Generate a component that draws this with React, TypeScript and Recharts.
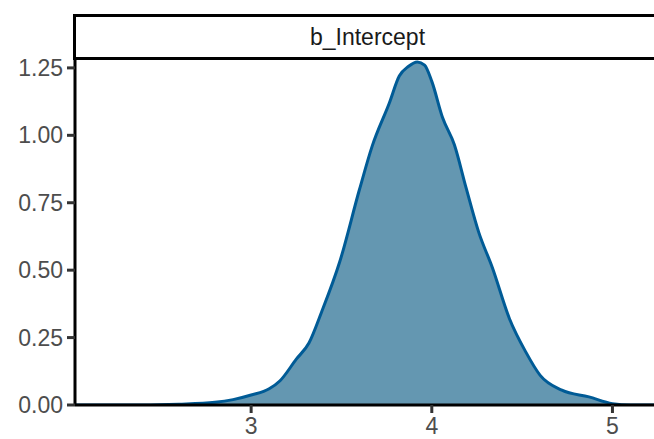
import { AreaChart, Area, XAxis, YAxis } from "recharts";

// posterior density of b_Intercept
const xs = [
  2.025, 2.2, 2.4, 2.6, 2.8, 2.9, 3.0, 3.1, 3.16, 3.25, 3.32, 3.39, 3.49, 3.6,
  3.67, 3.765, 3.82, 3.87, 3.92, 3.96, 4.0, 4.06, 4.125, 4.19, 4.26, 4.335,
  4.43, 4.52, 4.6, 4.72, 4.87, 5.0, 5.1, 5.23,
];
const density = [
  0, 0, 0, 0.003, 0.01, 0.02, 0.037, 0.06, 0.09, 0.17, 0.23, 0.345, 0.53, 0.8,
  0.96, 1.12, 1.22, 1.255, 1.272, 1.26, 1.2, 1.065, 0.965, 0.805, 0.64, 0.51,
  0.32, 0.197, 0.11, 0.055, 0.03, 0.005, 0, 0,
];
const xTicks = [3, 4, 5];
const yTicks = [0, 0.25, 0.5, 0.75, 1.0, 1.25];
const panelTitle = "b_Intercept";

const data = xs.map((x, i) => ({ x, y: density[i] }));

const font = "'Liberation Sans', Arial, Helvetica, sans-serif";

export default function App() {
  return (
    <div
      style={{
        position: "absolute",
        left: 0,
        top: 0,
        width: 654,
        height: 439,
        overflow: "hidden",
        background: "#fff",
        fontFamily: font,
      }}
    >
      <AreaChart
        width={654}
        height={439}
        data={data}
        margin={{ top: 59, right: 0, bottom: 0, left: 0 }}
      >
        <XAxis
          dataKey="x"
          type="number"
          domain={[2.025, 5.23]}
          ticks={xTicks}
          allowDataOverflow
          height={34}
          axisLine={{ stroke: "#000", strokeWidth: 3 }}
          tickLine={{ stroke: "#333", strokeWidth: 3 }}
          tickSize={8}
          tickMargin={5}
          tick={{ fill: "#4d4d4d", fontSize: 23, fontFamily: font }}
        />
        <YAxis
          type="number"
          domain={[0, 1.283]}
          ticks={yTicks}
          allowDataOverflow
          width={75}
          axisLine={{ stroke: "#000", strokeWidth: 3 }}
          tickLine={{ stroke: "#333", strokeWidth: 3 }}
          tickSize={8}
          tickMargin={4}
          tickFormatter={(v: number) => v.toFixed(2)}
          tick={{ fill: "#4d4d4d", fontSize: 23, fontFamily: font }}
        />
        <Area
          dataKey="y"
          type="monotone"
          fill="#6497B1"
          fillOpacity={1}
          stroke="#005B96"
          strokeWidth={3}
          isAnimationActive={false}
        />
      </AreaChart>
      <div
        style={{
          position: "absolute",
          left: 73,
          top: 14,
          width: 583,
          height: 40,
          border: "3px solid #000",
          background: "#fff",
          display: "flex",
          alignItems: "center",
          justifyContent: "center",
          fontSize: 23,
          color: "#1a1a1a",
          boxSizing: "content-box",
        }}
      >
        {panelTitle}
      </div>
    </div>
  );
}
